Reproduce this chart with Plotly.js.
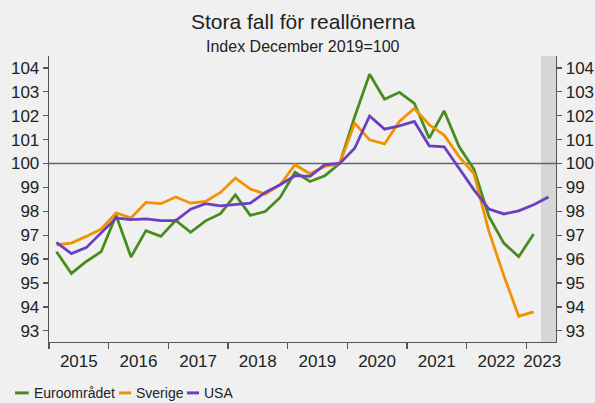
<!DOCTYPE html>
<html>
<head>
<meta charset="utf-8">
<script src="https://cdn.plot.ly/plotly-3.0.1.min.js"></script>
<style>
html,body{margin:0;padding:0;background:#f0f0f0;}
#chart{width:595px;height:403px;}
</style>
</head>
<body>
<div id="chart"></div>
<script>
// Quarterly periods 2015Q1 .. 2023Q2
const quarters = ["2015Q1","2015Q2","2015Q3","2015Q4","2016Q1","2016Q2","2016Q3","2016Q4",
  "2017Q1","2017Q2","2017Q3","2017Q4","2018Q1","2018Q2","2018Q3","2018Q4",
  "2019Q1","2019Q2","2019Q3","2019Q4","2020Q1","2020Q2","2020Q3","2020Q4",
  "2021Q1","2021Q2","2021Q3","2021Q4","2022Q1","2022Q2","2022Q3","2022Q4",
  "2023Q1","2023Q2"];

const seriesNames = ["Euroområdet", "Sverige", "USA"];

const euroomradet = [96.31,95.40,95.90,96.31,97.83,96.09,97.19,96.95,97.62,97.12,97.60,97.90,
  98.69,97.83,97.99,98.58,99.64,99.25,99.49,100.0,101.96,103.74,102.69,102.98,
  102.52,101.06,102.20,100.71,99.76,97.79,96.67,96.10,97.05];

const sverige = [96.60,96.67,96.95,97.26,97.93,97.72,98.37,98.32,98.60,98.34,98.41,98.79,
  99.39,98.93,98.72,99.11,99.95,99.57,99.88,100.0,101.69,100.99,100.82,101.76,
  102.30,101.62,101.19,100.29,99.57,97.16,95.31,93.61,93.79];

const usa = [96.70,96.23,96.48,97.09,97.72,97.65,97.68,97.61,97.61,98.09,98.32,98.23,
  98.29,98.34,98.79,99.11,99.49,99.46,99.95,100.0,100.64,101.99,101.44,101.58,
  101.76,100.74,100.70,99.81,98.90,98.09,97.89,98.02,98.27,98.60];

const yearLabels = ["2015","2016","2017","2018","2019","2020","2021","2022","2023"];
const yTicks = [93,94,95,96,97,98,99,100,101,102,103,104];

// helpers: quarter string -> numeric position at middle of quarter
function qpos(q){ const y = +q.slice(0,4); const n = +q.slice(5); return y + (n - 0.5)/4; }
const xs = quarters.map(qpos);

const colors = ["#478c1c", "#f39200", "#6b3fc4"];
const values = [euroomradet, sverige, usa];

const traces = values.map((v,i)=>({
  type:"scatter", mode:"lines", name: seriesNames[i],
  x: xs.slice(0, v.length), y: v,
  line:{color: colors[i], width: 2.8},
  showlegend:false, hoverinfo:"skip"
}));
// dummy trace for right axis
traces.push({type:"scatter", mode:"lines", x:[2015,2015], y:[100,100], yaxis:"y2",
  line:{width:0, color:"rgba(0,0,0,0)"}, showlegend:false, hoverinfo:"skip"});

const yearTickVals = yearLabels.map((y,i)=> i < yearLabels.length-1 ? (+y)+0.5 : (+y)+0.27);

const axColor = "#555555";
const fontFam = "Liberation Sans, Arial, sans-serif";

const shapes = [
  {type:"rect", xref:"x", yref:"paper", x0:2023.25, x1:2023.5, y0:0, y1:1,
   fillcolor:"#d6d6d6", line:{width:0}, layer:"below"},
  {type:"line", xref:"paper", yref:"y", x0:0, x1:1, y0:100, y1:100,
   line:{color:"#666666", width:1.5}, layer:"below"}
];
const annotations = [
  {text:"Stora fall för reallönerna", xref:"paper", yref:"paper", x:0.5, y:1.119,
   xanchor:"center", yanchor:"middle", showarrow:false, font:{size:21, color:"#222"}},
  {text:"Index December 2019=100", xref:"paper", yref:"paper", x:0.5, y:1.033,
   xanchor:"center", yanchor:"middle", showarrow:false, font:{size:16, color:"#222"}}
];
// custom legend
const legX = [[-0.067,-0.040],[0.138,0.162],[0.272,0.296]];
const legY = -0.178;
seriesNames.forEach((n,i)=>{
  shapes.push({type:"line", xref:"paper", yref:"paper", x0:legX[i][0], x1:legX[i][1],
    y0:legY, y1:legY, line:{color:colors[i], width:3}});
  annotations.push({text:n, xref:"paper", yref:"paper", x:legX[i][1]+0.006, y:legY,
    xanchor:"left", yanchor:"middle", showarrow:false, font:{size:14, color:"#222"}});
});

const layout = {
  width:595, height:403,
  margin:{l:49, r:39, t:56, b:60.6, pad:0},
  paper_bgcolor:"#f0f0f0", plot_bgcolor:"#f0f0f0",
  font:{family:fontFam, color:"#222", size:16},
  showlegend:false,
  xaxis:{
    range:[2015, 2023.5], showgrid:false, zeroline:false,
    showline:true, linecolor:axColor, linewidth:1.3,
    tickmode:"array", tickvals: yearTickVals, ticktext: yearLabels,
    ticks:"", tickfont:{size:17, color:"#222"}, ticklabelstandoff:3,
    minor:{tickmode:"linear", tick0:2015, dtick:1, ticks:"outside", ticklen:6,
      tickcolor:axColor, tickwidth:1.3, showgrid:false}
  },
  yaxis:{
    range:[92.53, 104.5], showgrid:false, zeroline:false,
    showline:true, linecolor:axColor, linewidth:1.3,
    tickmode:"array", tickvals:yTicks, ticks:"outside", ticklen:5,
    tickcolor:axColor, tickwidth:1.3, tickfont:{size:17, color:"#222"}
  },
  yaxis2:{
    overlaying:"y", side:"right", range:[92.53, 104.5], showgrid:false, zeroline:false,
    showline:true, linecolor:axColor, linewidth:1.3,
    tickmode:"array", tickvals:yTicks, ticks:"outside", ticklen:5,
    tickcolor:axColor, tickwidth:1.3, tickfont:{size:17, color:"#222"}
  },
  shapes: shapes,
  annotations: annotations
};

Plotly.newPlot("chart", traces, layout, {staticPlot:true, displayModeBar:false});
</script>
</body>
</html>
